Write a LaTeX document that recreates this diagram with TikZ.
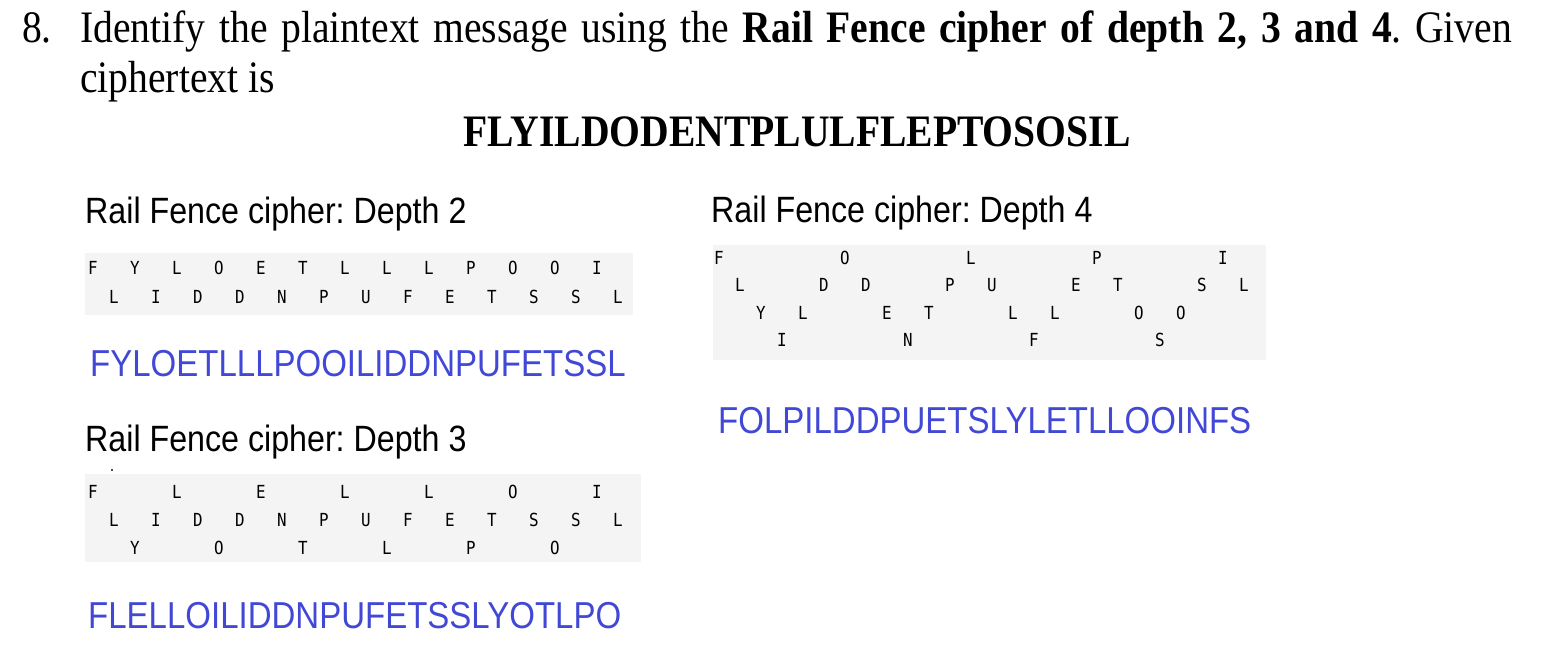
\documentclass[tikz,border=0pt]{standalone}
\usepackage{fontspec}
\setmainfont[FakeStretch=0.88]{Liberation Serif}
\newfontfamily\headfont[FakeStretch=0.88]{Liberation Sans}
\newfontfamily\railfont[FakeStretch=0.88]{DejaVu Sans Mono}
\usetikzlibrary{positioning}
\definecolor{plainBlue}{RGB}{66,72,214}
\definecolor{gridGray}{RGB}{244,244,244}
\frenchspacing

\begin{document}
\begin{tikzpicture}[x=1pt, y=-1pt,
    txt/.style={anchor=base west, inner sep=0pt},
    qtext/.style={txt, font=\fontsize{45}{50}\selectfont},
    head/.style={txt, font=\headfont\fontsize{36.6}{40}\selectfont},
    answer/.style={txt, text=plainBlue, font=\headfont\fontsize{37.5}{40}\selectfont},
    rail/.style={inner sep=0pt, font=\railfont\fontsize{18}{18}\selectfont}]
    \useasboundingbox[fill=white] (0,0) rectangle (1564,662);

    % question
    \node[qtext] (num) at (22,42) {8.};
    \node[qtext] (line1) at (80,42) {\makebox[1432pt][s]{Identify the plaintext message using the \textbf{Rail Fence cipher of depth 2, 3 and 4}. Given}};
    \node[qtext] (line2) at (80,92) {ciphertext is};
    \node[qtext, anchor=base, font=\bfseries\fontsize{45}{50}\selectfont] (cipher) at (797,146) {FLYILDODENTPLULFLEPTOSOSIL};

    % depth 2
    \node[head] (headtwo) at (85,223) {Rail Fence cipher: Depth 2};
    \fill[gridGray] (85,253) rectangle (633,315);
    \foreach \ch [count=\i from 0] in {F,Y,L,O,E,T,L,L,L,P,O,O,I}
        \node[rail] (twoa\i) at ({93+42*\i},268) {\ch};
    \foreach \ch [count=\i from 0] in {L,I,D,D,N,P,U,F,E,T,S,S,L}
        \node[rail] (twob\i) at ({114+42*\i},297) {\ch};
    \node[answer] (anstwo) at (90,376) {FYLOETLLLPOOILIDDNPUFETSSL};

    % depth 3
    \node[head] (headthree) at (85,451) {Rail Fence cipher: Depth 3};
    \fill[gridGray] (85,474) rectangle (641,562);
    \fill[black!70] (111,469) rectangle (113,471);
    \foreach \ch [count=\i from 0] in {F,L,E,L,L,O,I}
        \node[rail] (threea\i) at ({93+84*\i},492) {\ch};
    \foreach \ch [count=\i from 0] in {L,I,D,D,N,P,U,F,E,T,S,S,L}
        \node[rail] (threeb\i) at ({114+42*\i},520) {\ch};
    \foreach \ch [count=\i from 0] in {Y,O,T,L,P,O}
        \node[rail] (threec\i) at ({135+84*\i},548) {\ch};
    \node[answer] (ansthree) at (88,628) {FLELLOILIDDNPUFETSSLYOTLPO};

    % depth 4
    \node[head] (headfour) at (711,222) {Rail Fence cipher: Depth 4};
    \fill[gridGray] (713,245) rectangle (1266,360);
    \foreach \c/\ch in {0/F,6/O,12/L,18/P,24/I}
        \node[rail] (foura\c) at ({719+21*\c},258) {\ch};
    \foreach \c/\ch in {1/L,5/D,7/D,11/P,13/U,17/E,19/T,23/S,25/L}
        \node[rail] (fourb\c) at ({719+21*\c},285) {\ch};
    \foreach \c/\ch in {2/Y,4/L,8/E,10/T,14/L,16/L,20/O,22/O}
        \node[rail] (fourc\c) at ({719+21*\c},313) {\ch};
    \foreach \c/\ch in {3/I,9/N,15/F,21/S}
        \node[rail] (fourd\c) at ({719+21*\c},340) {\ch};
    \node[answer] (ansfour) at (718,433) {FOLPILDDPUETSLYLETLLOOINFS};
\end{tikzpicture}
\end{document}
